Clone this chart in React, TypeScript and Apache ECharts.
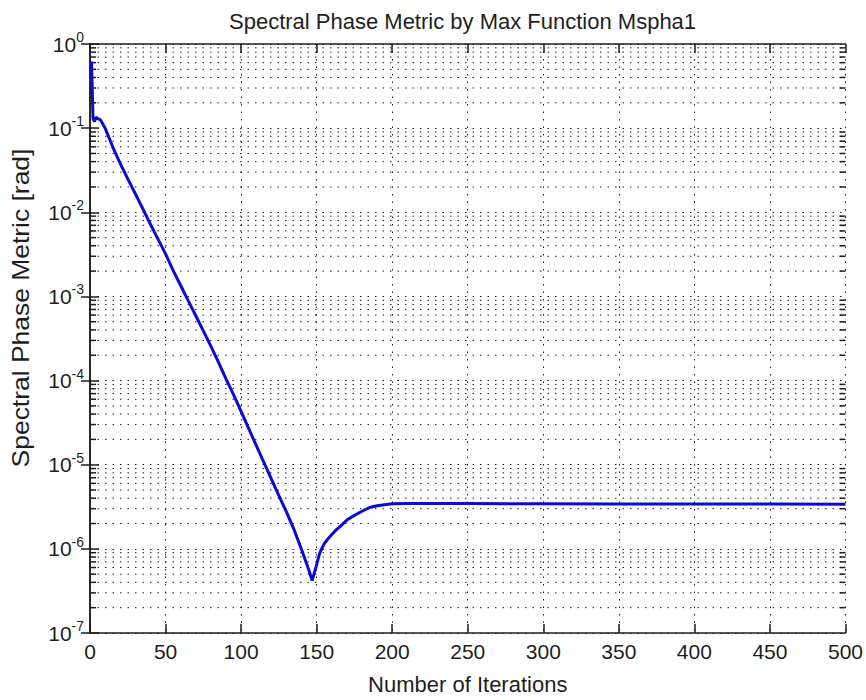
import React, { useEffect, useRef } from "react";
import * as echarts from "echarts";

const iterations = [1, 2, 3, 4, 5, 6, 7, 10, 15, 20, 25, 30, 35, 40, 45, 50, 55, 60, 65, 70, 75, 80, 85, 90, 95, 100, 105, 110, 115, 120, 125, 130, 135, 140, 145, 147, 150, 152, 155, 158, 162, 166, 170, 175, 180, 185, 190, 195, 200, 210, 220, 250, 300, 350, 400, 450, 500];
const metricValues = [0.62, 0.13, 0.12, 0.135, 0.13, 0.128, 0.125, 0.1, 0.06, 0.038, 0.025, 0.0166, 0.011, 0.0072, 0.0048, 0.0032, 0.00204, 0.00135, 8.9e-4, 5.9e-4, 3.9e-4, 2.57e-4, 1.66e-4, 1.05e-4, 6.8e-5, 4.3e-5, 2.7e-5, 1.7e-5, 1.07e-5, 6.8e-6, 4.3e-6, 2.75e-6, 1.7e-6, 9.8e-7, 5.5e-7, 4.2e-7, 6.5e-7, 8.9e-7, 1.15e-6, 1.35e-6, 1.62e-6, 1.88e-6, 2.2e-6, 2.5e-6, 2.8e-6, 3.1e-6, 3.25e-6, 3.35e-6, 3.43e-6, 3.45e-6, 3.45e-6, 3.45e-6, 3.43e-6, 3.42e-6, 3.42e-6, 3.41e-6, 3.4e-6];

const xTicks = [0, 50, 100, 150, 200, 250, 300, 350, 400, 450, 500];
const yDecades = [1e-7, 1e-6, 1e-5, 1e-4, 1e-3, 1e-2, 1e-1, 1];
const minorMultipliers = [2, 3, 4, 5, 6, 7, 8, 9];

const TITLE = "Spectral Phase Metric by Max Function Mspha1";
const X_NAME = "Number of Iterations";
const Y_NAME = "Spectral Phase Metric [rad]";

const FONT = "'Liberation Sans', Arial, Helvetica, sans-serif";
const INK = "#1e1e1e";
const DOT = [1.5, 6];

export default function App() {
  const ref = useRef<HTMLDivElement>(null);

  useEffect(() => {
    if (!ref.current) return;
    const chart = echarts.init(ref.current, undefined, { renderer: "svg" });

    const minorValues: number[][] = [];
    yDecades.slice(0, -1).forEach((d) => {
      minorMultipliers.forEach((m) => minorValues.push([0, d * m]));
    });

    const lineData = iterations.map((it, i) => [it, metricValues[i]]);

    const expLabel = (v: number) => {
      const e = Math.round(Math.log10(v));
      return `{base|10}{exp|${e}}`;
    };

    const common = {
      min: 1e-7,
      max: 1,
      logBase: 10,
      splitNumber: 7,
    };

    chart.setOption({
      animation: false,
      backgroundColor: "#ffffff",
      title: {
        text: TITLE,
        left: 224,
        top: 5,
        textStyle: { fontFamily: FONT, fontSize: 22, fontWeight: "normal", color: INK },
      },
      graphic: [
        {
          type: "text",
          x: 21,
          y: 308,
          rotation: Math.PI / 2,
          scaleX: 1.15,
          style: {
            text: Y_NAME,
            font: `normal 23px ${FONT}`,
            fill: INK,
            textAlign: "center",
            textVerticalAlign: "middle",
          },
        },
      ],
      grid: { left: 90, right: 20, top: 44, bottom: 62, containLabel: false },
      xAxis: [
        {
          type: "value",
          min: xTicks[0],
          max: xTicks[xTicks.length - 1],
          interval: 50,
          name: X_NAME,
          nameLocation: "middle",
          nameGap: 40,
          nameTextStyle: { fontFamily: FONT, fontSize: 22, color: INK },
          axisLine: { show: true, lineStyle: { color: INK, width: 1.5 } },
          axisTick: { show: true, inside: true, length: 9, lineStyle: { color: INK, width: 1.5 } },
          axisLabel: { fontFamily: FONT, fontSize: 21, color: INK, margin: 8 },
          splitLine: { show: true, lineStyle: { color: INK, type: DOT, width: 1 } },
        },
        {
          type: "value",
          position: "top",
          min: xTicks[0],
          max: xTicks[xTicks.length - 1],
          interval: 50,
          axisLine: { show: true, lineStyle: { color: INK, width: 1.5 } },
          axisTick: { show: true, inside: true, length: 9, lineStyle: { color: INK, width: 1.5 } },
          axisLabel: { show: false },
          splitLine: { show: false },
        },
      ],
      yAxis: [
        {
          type: "log",
          ...common,
          axisLine: { show: true, lineStyle: { color: INK, width: 1.5 } },
          axisTick: { show: true, inside: true, length: 9, lineStyle: { color: INK, width: 1.5 } },
          axisLabel: {
            margin: 6,
            formatter: expLabel,
            rich: {
              base: { fontFamily: FONT, fontSize: 21, color: INK },
              exp: { fontFamily: FONT, fontSize: 14, color: INK, padding: [0, 0, 14, 0] },
            },
          },
          splitLine: { show: true, lineStyle: { color: INK, type: DOT, width: 1 } },
        },
        {
          type: "log",
          ...common,
          position: "right",
          axisLine: { show: true, lineStyle: { color: INK, width: 1.5 } },
          axisTick: { show: true, inside: true, length: 9, lineStyle: { color: INK, width: 1.5 } },
          axisLabel: { show: false },
          splitLine: { show: false },
        },
      ],
      series: [
        {
          type: "custom",
          xAxisIndex: 0,
          yAxisIndex: 0,
          silent: true,
          clip: false,
          z: 1,
          data: minorValues,
          renderItem: (params: any, api: any) => {
            const cs = params.coordSys;
            const y = api.coord([0, api.value(1)])[1];
            return {
              type: "group",
              children: [
                {
                  type: "line",
                  shape: { x1: cs.x, y1: y, x2: cs.x + cs.width, y2: y },
                  style: { stroke: INK, lineWidth: 1, lineDash: DOT },
                },
                {
                  type: "line",
                  shape: { x1: cs.x, y1: y, x2: cs.x + 6, y2: y },
                  style: { stroke: INK, lineWidth: 1.5 },
                },
                {
                  type: "line",
                  shape: { x1: cs.x + cs.width - 6, y1: y, x2: cs.x + cs.width, y2: y },
                  style: { stroke: INK, lineWidth: 1.5 },
                },
              ],
            };
          },
        },
        {
          type: "line",
          xAxisIndex: 0,
          yAxisIndex: 0,
          z: 5,
          data: lineData,
          showSymbol: false,
          symbol: "none",
          lineStyle: { color: "#0a0ad2", width: 3 },
        },
      ],
    });

    return () => chart.dispose();
  }, []);

  return (
    <div
      ref={ref}
      style={{ position: "absolute", left: 0, top: 0, width: 866, height: 700, background: "#fff" }}
    />
  );
}
